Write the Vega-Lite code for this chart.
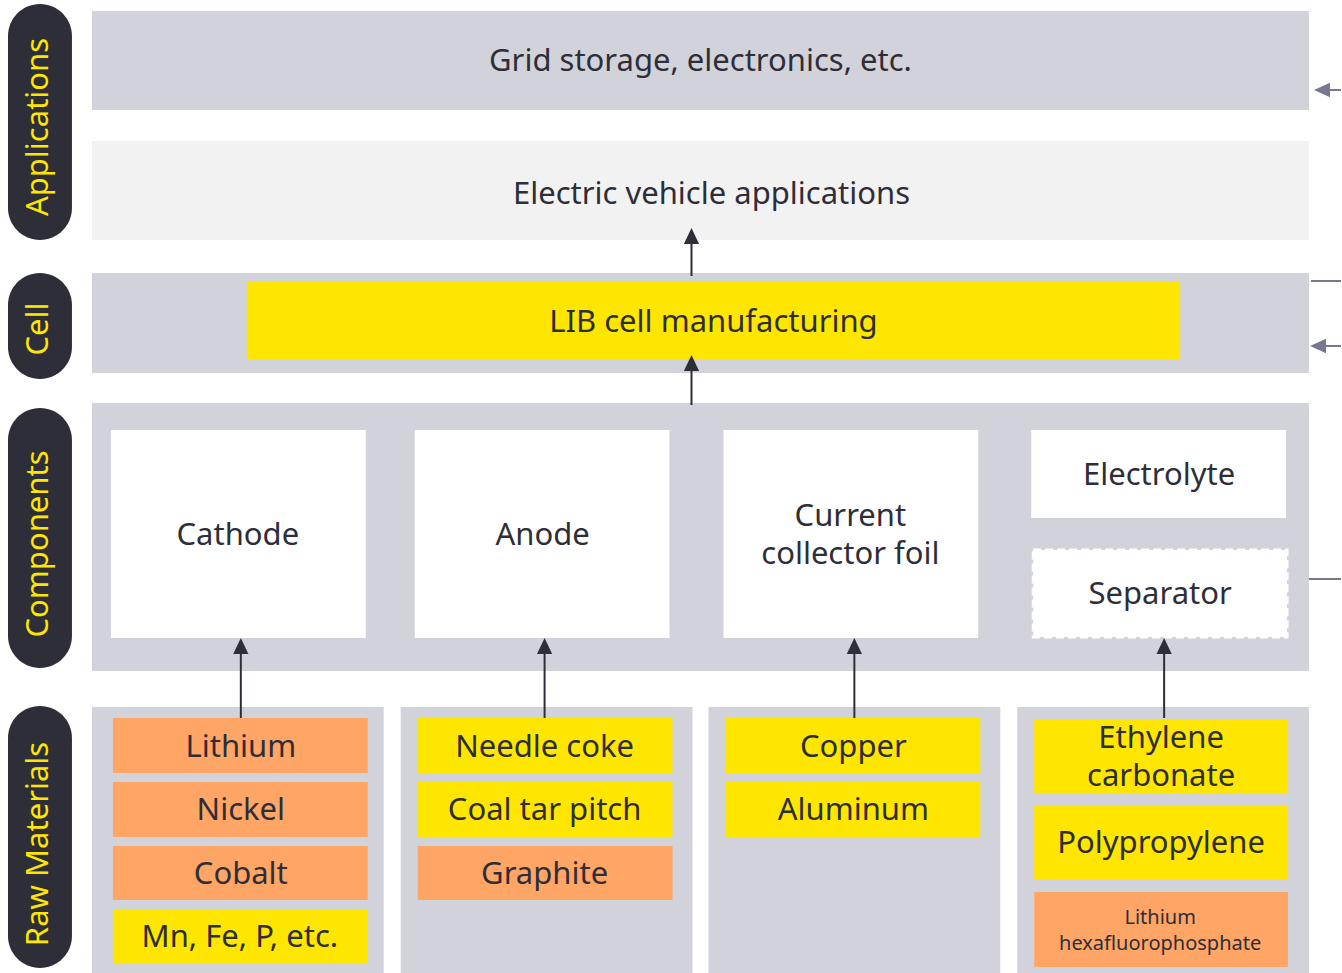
{
  "$schema": "https://vega.github.io/schema/vega-lite/v6.json",
  "width": 1342,
  "height": 973,
  "padding": 0,
  "autosize": {"type": "fit", "contains": "padding"},
  "background": "#ffffff",
  "config": {"view": {"stroke": null}},
  "datasets": {
    "boxes": [
      {"x1": 92, "x2": 1310, "y1": 11, "y2": 110, "kind": "band"},
      {"x1": 92, "x2": 1310, "y1": 141, "y2": 240, "kind": "ev"},
      {"x1": 92, "x2": 1310, "y1": 273, "y2": 373, "kind": "band"},
      {"x1": 247, "x2": 1181, "y1": 282, "y2": 359, "kind": "yellow"},
      {"x1": 92, "x2": 1310, "y1": 403, "y2": 671, "kind": "band"},
      {"x1": 111, "x2": 366, "y1": 430, "y2": 638, "kind": "white"},
      {"x1": 415, "x2": 670, "y1": 430, "y2": 638, "kind": "white"},
      {"x1": 724, "x2": 979, "y1": 430, "y2": 638, "kind": "white"},
      {"x1": 1032, "x2": 1287, "y1": 430, "y2": 518, "kind": "white"},
      {"x1": 92, "x2": 384, "y1": 707, "y2": 973, "kind": "band"},
      {"x1": 401, "x2": 693, "y1": 707, "y2": 973, "kind": "band"},
      {"x1": 709, "x2": 1001, "y1": 707, "y2": 973, "kind": "band"},
      {"x1": 1018, "x2": 1310, "y1": 707, "y2": 973, "kind": "band"},
      {"x1": 113, "x2": 368, "y1": 718, "y2": 773, "kind": "orange"},
      {"x1": 113, "x2": 368, "y1": 782, "y2": 837, "kind": "orange"},
      {"x1": 113, "x2": 368, "y1": 846, "y2": 900, "kind": "orange"},
      {"x1": 113, "x2": 368, "y1": 910, "y2": 964, "kind": "yellow"},
      {"x1": 418, "x2": 673, "y1": 718, "y2": 773, "kind": "yellow"},
      {"x1": 418, "x2": 673, "y1": 782, "y2": 837, "kind": "yellow"},
      {"x1": 418, "x2": 673, "y1": 846, "y2": 900, "kind": "orange"},
      {"x1": 726, "x2": 981, "y1": 718, "y2": 773, "kind": "yellow"},
      {"x1": 726, "x2": 981, "y1": 782, "y2": 837, "kind": "yellow"},
      {"x1": 1035, "x2": 1289, "y1": 719, "y2": 794, "kind": "yellow"},
      {"x1": 1035, "x2": 1289, "y1": 805, "y2": 880, "kind": "yellow"},
      {"x1": 1035, "x2": 1289, "y1": 892, "y2": 967, "kind": "orange"}
    ],
    "separator": [
      {"x1": 1034, "x2": 1288, "y1": 550, "y2": 637}
    ],
    "pills": [
      {"x1": 8, "x2": 72, "y1": 4, "y2": 240, "tx": 39, "ty": 127, "name": "Applications"},
      {"x1": 8, "x2": 72, "y1": 273, "y2": 379, "tx": 39, "ty": 329, "name": "Cell"},
      {"x1": 8, "x2": 72, "y1": 408, "y2": 668, "tx": 39, "ty": 544, "name": "Components"},
      {"x1": 8, "x2": 72, "y1": 706, "y2": 968, "tx": 39, "ty": 844, "name": "Raw Materials"}
    ],
    "lines": [
      {"x1": 692, "y1": 243, "x2": 692, "y2": 276, "kind": "dark"},
      {"x1": 692, "y1": 370, "x2": 692, "y2": 405, "kind": "dark"},
      {"x1": 241, "y1": 652, "x2": 241, "y2": 718, "kind": "dark"},
      {"x1": 545, "y1": 652, "x2": 545, "y2": 718, "kind": "dark"},
      {"x1": 855, "y1": 652, "x2": 855, "y2": 718, "kind": "dark"},
      {"x1": 1165, "y1": 652, "x2": 1165, "y2": 718, "kind": "dark"},
      {"x1": 1328, "y1": 90, "x2": 1342, "y2": 90, "kind": "grey"},
      {"x1": 1312, "y1": 281, "x2": 1342, "y2": 281, "kind": "grey"},
      {"x1": 1325, "y1": 346, "x2": 1342, "y2": 346, "kind": "grey"},
      {"x1": 1310, "y1": 579, "x2": 1342, "y2": 579, "kind": "grey"}
    ],
    "heads": [
      {"x": 692, "y": 236, "dir": "up", "kind": "dark"},
      {"x": 692, "y": 363, "dir": "up", "kind": "dark"},
      {"x": 241, "y": 646, "dir": "up", "kind": "dark"},
      {"x": 545, "y": 646, "dir": "up", "kind": "dark"},
      {"x": 855, "y": 646, "dir": "up", "kind": "dark"},
      {"x": 1165, "y": 646, "dir": "up", "kind": "dark"},
      {"x": 1323, "y": 90, "dir": "left", "kind": "grey"},
      {"x": 1319, "y": 346, "dir": "left", "kind": "grey"}
    ],
    "labels": [
      {"x": 701, "y": 62, "text": "Grid storage, electronics, etc."},
      {"x": 712, "y": 195, "text": "Electric vehicle applications"},
      {"x": 714, "y": 323, "text": "LIB cell manufacturing"},
      {"x": 238, "y": 536, "text": "Cathode"},
      {"x": 543, "y": 536, "text": "Anode"},
      {"x": 851, "y": 517, "text": ["Current", "collector foil"]},
      {"x": 1160, "y": 476, "text": "Electrolyte"},
      {"x": 1161, "y": 595, "text": "Separator"},
      {"x": 241, "y": 748, "text": "Lithium"},
      {"x": 241, "y": 811, "text": "Nickel"},
      {"x": 241, "y": 875, "text": "Cobalt"},
      {"x": 240, "y": 938, "text": "Mn, Fe, P, etc."},
      {"x": 545, "y": 748, "text": "Needle coke"},
      {"x": 545, "y": 811, "text": "Coal tar pitch"},
      {"x": 545, "y": 875, "text": "Graphite"},
      {"x": 854, "y": 748, "text": "Copper"},
      {"x": 854, "y": 811, "text": "Aluminum"},
      {"x": 1162, "y": 739, "text": ["Ethylene", "carbonate"]},
      {"x": 1162, "y": 844, "text": "Polypropylene"}
    ],
    "smalllabels": [
      {"x": 1161, "y": 918, "text": ["Lithium", "hexafluorophosphate"]}
    ]
  },
  "layer": [
    {
      "data": {"name": "boxes"},
      "mark": {"type": "rect"},
      "encoding": {
        "x": {"field": "x1", "type": "quantitative", "scale": {"domain": [0, 1342], "nice": false, "zero": false}, "axis": null},
        "x2": {"field": "x2"},
        "y": {"field": "y1", "type": "quantitative", "scale": {"domain": [0, 973], "nice": false, "zero": false, "reverse": true}, "axis": null},
        "y2": {"field": "y2"},
        "fill": {"field": "kind", "type": "nominal", "legend": null,
          "scale": {"domain": ["band", "ev", "white", "yellow", "orange"], "range": ["#d2d2da", "#f2f2f2", "#ffffff", "#ffe600", "#ffa566"]}}
      }
    },
    {
      "data": {"name": "separator"},
      "mark": {"type": "rect", "fill": "#ffffff", "stroke": "#ffffff", "strokeWidth": 3, "strokeDash": [8, 4]},
      "encoding": {
        "x": {"field": "x1", "type": "quantitative"},
        "x2": {"field": "x2"},
        "y": {"field": "y1", "type": "quantitative"},
        "y2": {"field": "y2"}
      }
    },
    {
      "data": {"name": "pills"},
      "mark": {"type": "rect", "fill": "#2e2e38", "cornerRadius": 32},
      "encoding": {
        "x": {"field": "x1", "type": "quantitative"},
        "x2": {"field": "x2"},
        "y": {"field": "y1", "type": "quantitative"},
        "y2": {"field": "y2"}
      }
    },
    {
      "data": {"name": "lines"},
      "mark": {"type": "rule", "strokeWidth": 2},
      "encoding": {
        "x": {"field": "x1", "type": "quantitative"},
        "x2": {"field": "x2"},
        "y": {"field": "y1", "type": "quantitative"},
        "y2": {"field": "y2"},
        "color": {"field": "kind", "type": "nominal", "legend": null,
          "scale": {"domain": ["dark", "grey"], "range": ["#2e2e38", "#77778f"]}}
      }
    },
    {
      "data": {"name": "heads"},
      "mark": {"type": "point", "filled": true, "opacity": 1, "strokeWidth": 0, "size": 256},
      "encoding": {
        "x": {"field": "x", "type": "quantitative"},
        "y": {"field": "y", "type": "quantitative"},
        "shape": {"field": "dir", "type": "nominal", "legend": null,
          "scale": {"domain": ["up", "left"], "range": ["M0,-1L-0.95,1L0.95,1Z", "M-1,0L1,-0.9L1,0.9Z"]}},
        "color": {"field": "kind", "type": "nominal", "legend": null,
          "scale": {"domain": ["dark", "grey"], "range": ["#2e2e38", "#77778f"]}}
      }
    },
    {
      "data": {"name": "labels"},
      "mark": {"type": "text", "font": "Noto Sans", "fontSize": 31, "align": "center", "baseline": "middle", "lineHeight": 38, "color": "#2e2e38"},
      "encoding": {
        "x": {"field": "x", "type": "quantitative"},
        "y": {"field": "y", "type": "quantitative"},
        "text": {"field": "text"}
      }
    },
    {
      "data": {"name": "smalllabels"},
      "mark": {"type": "text", "font": "Noto Sans", "fontSize": 20, "align": "center", "baseline": "middle", "lineHeight": 26, "color": "#2e2e38"},
      "encoding": {
        "x": {"field": "x", "type": "quantitative"},
        "y": {"field": "y", "type": "quantitative"},
        "text": {"field": "text"}
      }
    },
    {
      "data": {"name": "pills"},
      "mark": {"type": "text", "font": "Noto Sans", "fontSize": 31, "align": "center", "baseline": "middle", "angle": 270, "color": "#ffe600"},
      "encoding": {
        "x": {"field": "tx", "type": "quantitative"},
        "y": {"field": "ty", "type": "quantitative"},
        "text": {"field": "name"}
      }
    }
  ]
}
